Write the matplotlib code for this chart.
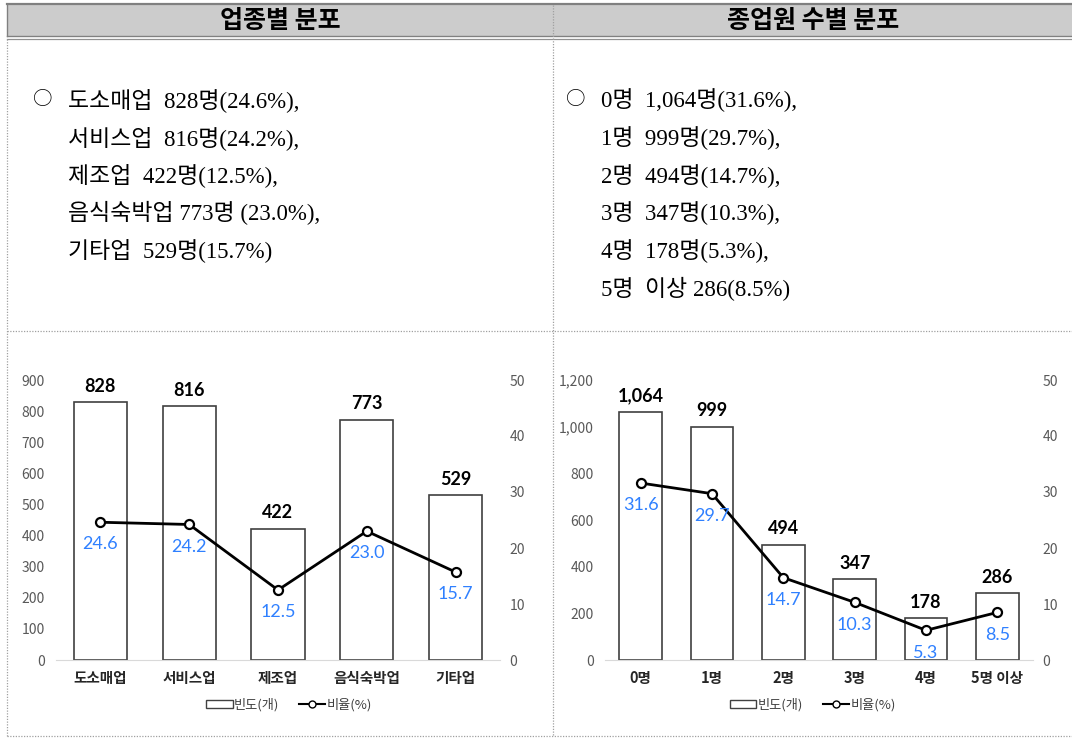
import numpy as np
import matplotlib
matplotlib.use('Agg')
import matplotlib.pyplot as plt
from matplotlib.patches import Rectangle, Patch
from matplotlib.lines import Line2D
from matplotlib.ticker import FuncFormatter

plt.rcParams['font.family'] = ['Noto Sans CJK KR', 'DejaVu Sans']

# 업종별
ind_names = ['도소매업', '서비스업', '제조업', '음식숙박업', '기타업']
ind_count = [828, 816, 422, 773, 529]
ind_pct = [24.6, 24.2, 12.5, 23.0, 15.7]

# 종업원 수별
emp_names = ['0명', '1명', '2명', '3명', '4명', '5명 이상']
emp_count = [1064, 999, 494, 347, 178, 286]
emp_pct = [31.6, 29.7, 14.7, 10.3, 5.3, 8.5]

headers = ['업종별 분포', '종업원 수별 분포']
ind_lines = ['도소매업  828명(24.6%),', '서비스업  816명(24.2%),', '제조업  422명(12.5%),',
             '음식숙박업 773명 (23.0%),', '기타업  529명(15.7%)']
emp_lines = ['0명  1,064명(31.6%),', '1명  999명(29.7%),', '2명  494명(14.7%),',
             '3명  347명(10.3%),', '4명  178명(5.3%),', '5명  이상 286(8.5%)']

W, H = 1072, 738
BLUE = '#2F80FF'
serif = ['Liberation Serif', 'Noto Sans CJK KR']
num_font = ['Lato', 'DejaVu Sans']

fig = plt.figure(figsize=(W / 100, H / 100), dpi=100)

# table frame drawn in pixel coordinates
bg = fig.add_axes([0, 0, 1, 1])
bg.set_xlim(0, W)
bg.set_ylim(H, 0)
bg.axis('off')

bg.add_patch(Rectangle((7, 4.5), W - 7, 31, facecolor='#CCCCCC', edgecolor='none'))
bg.plot([7, W], [3.5, 3.5], color='#808080', lw=1.6)
bg.plot([7, W], [36, 36], color='#808080', lw=1.0)
bg.plot([7, W], [38.5, 38.5], color='#909090', lw=0.9)
bg.plot([7, 7], [3.5, 36], color='#808080', lw=1.0)
dot = dict(color='#A0A0A0', lw=0.9, linestyle=(0, (1, 1.2)))
bg.plot([7, 7], [39, 736], **dot)
bg.plot([553, 553], [5, 736], **dot)
bg.plot([7, W], [331, 331], **dot)
bg.plot([7, W], [736, 736], **dot)

bg.text(280, 21, headers[0], ha='center', va='center', fontsize=18, fontweight='bold')
bg.text(813, 21, headers[1], ha='center', va='center', fontsize=18, fontweight='bold')

for i, s in enumerate(ind_lines):
    y = 100 + 37.6 * i
    if i == 0:
        bg.text(43, y, '○', ha='center', va='center', fontsize=14)
    bg.text(68, y, s, ha='left', va='center', fontsize=16.5, family=serif)
for i, s in enumerate(emp_lines):
    y = 100 + 37.8 * i
    if i == 0:
        bg.text(576, y, '○', ha='center', va='center', fontsize=14)
    bg.text(601, y, s, ha='left', va='center', fontsize=16.5, family=serif)


def ax_rect(x0, x1, y0, y1):
    return [x0 / W, 1 - y1 / H, (x1 - x0) / W, (y1 - y0) / H]


def draw_chart(rect, names, counts, pcts, ymax, ystep, leg_x):
    ax = fig.add_axes(rect)
    x = np.arange(len(names))
    ax.bar(x, counts, width=0.6, color='white', edgecolor='#404040', linewidth=1.2, zorder=2)
    ax.set_xlim(-0.5, len(names) - 0.5)
    ax.set_ylim(0, ymax)
    ax.set_yticks(np.arange(0, ymax + 1, ystep))
    ax.yaxis.set_major_formatter(FuncFormatter(lambda v, p: f'{v:,.0f}'))
    for s in ['top', 'right', 'left']:
        ax.spines[s].set_visible(False)
    ax.spines['bottom'].set_color('#D9D9D9')
    ax.tick_params(length=0)
    ax.tick_params(axis='y', labelsize=10, labelcolor='#595959', pad=8)
    ax.set_xticks(x)
    ax.set_xticklabels(names, fontsize=10.5, fontweight='bold', color='#262626')
    ax.tick_params(axis='x', pad=7)
    for xi, c in zip(x, counts):
        ax.annotate(f'{c:,}', (xi, c), xytext=(0, 11.5), textcoords='offset points',
                    ha='center', va='center', fontsize=13, fontweight='bold', family=num_font)

    ax2 = ax.twinx()
    ax2.set_ylim(0, 50)
    ax2.set_yticks(range(0, 51, 10))
    for s in ax2.spines.values():
        s.set_visible(False)
    ax2.tick_params(length=0, labelsize=10, labelcolor='#595959', pad=7)
    ax2.plot(x, pcts, color='black', lw=2.0, marker='o', ms=6.5, mfc='white',
             mec='black', mew=1.6, zorder=3)
    for xi, p in zip(x, pcts):
        ax2.annotate(f'{p:.1f}', (xi, p), xytext=(0, -16), textcoords='offset points',
                     ha='center', va='center', fontsize=13, color=BLUE, family=num_font)

    handles = [Patch(facecolor='white', edgecolor='#404040', lw=1.0),
               Line2D([], [], color='black', lw=1.5, marker='o', ms=5, mfc='white', mec='black')]
    ax.legend(handles, ['빈도(개)', '비율(%)'], loc='center', bbox_to_anchor=(leg_x, -0.16),
              ncol=2, frameon=False, fontsize=9.5, handlelength=2.0, handleheight=0.5,
              handletextpad=0.1, columnspacing=1.5, labelcolor='#404040')
    return ax


draw_chart(ax_rect(56, 500, 380, 660), ind_names, ind_count, ind_pct, 900, 100, 0.525)
draw_chart(ax_rect(605, 1033, 380, 660), emp_names, emp_count, emp_pct, 1200, 200, 0.486)

fig.savefig('out.png', dpi=100)
